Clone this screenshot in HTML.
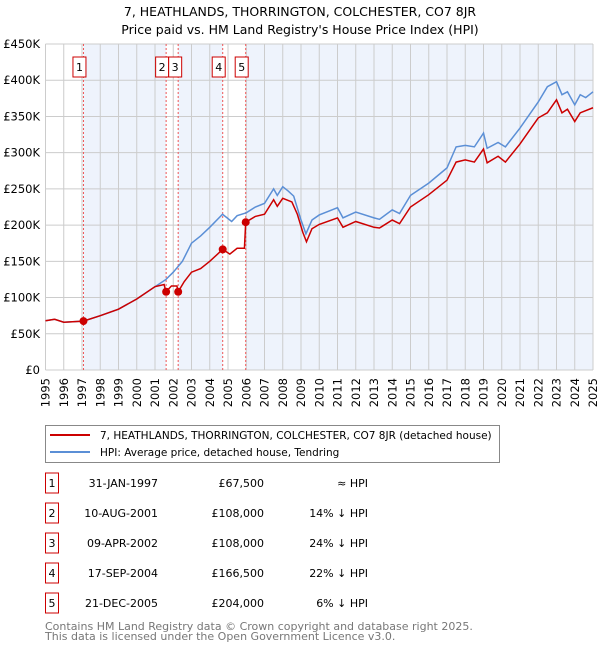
<!DOCTYPE html>
<html><head><meta charset="utf-8"><style>
body{margin:0;background:#fff;font-family:"Liberation Sans","DejaVu Sans",sans-serif;}
svg text{font-family:"DejaVu Sans","Liberation Sans",sans-serif;}
</style></head><body>
<svg id="chart" width="600" height="650" xmlns="http://www.w3.org/2000/svg">
<text x="300" y="16" text-anchor="middle" font-size="12.5">7, HEATHLANDS, THORRINGTON, COLCHESTER, CO7 8JR</text>
<text x="300" y="34" text-anchor="middle" font-size="12.5">Price paid vs. HM Land Registry's House Price Index (HPI)</text>
<g id="plot"></g>
<g>
<rect x="45.5" y="425.5" width="454" height="37" fill="#fff" stroke="#888"/>
<line x1="50" y1="435" x2="90" y2="435" stroke="#cc0000" stroke-width="2"/>
<text x="100" y="439" font-size="10.5">7, HEATHLANDS, THORRINGTON, COLCHESTER, CO7 8JR (detached house)</text>
<line x1="50" y1="452" x2="90" y2="452" stroke="#5b8fd6" stroke-width="2"/>
<text x="100" y="456" font-size="10.5">HPI: Average price, detached house, Tendring</text>
</g>
<g id="table" font-size="11"></g>
<text x="45" y="630" font-size="11" fill="#777">Contains HM Land Registry data © Crown copyright and database right 2025.</text>
<text x="45" y="640" font-size="11" fill="#777">This data is licensed under the Open Government Licence v3.0.</text>
</svg>
<script>
const hpiYears=[1995,1995.5,1996,1997.08,1998,1999,2000,2001,2001.6,2002,2002.5,2003,2003.5,2004,2004.7,2005.2,2005.5,2006,2006.5,2007,2007.5,2007.7,2008,2008.3,2008.6,2009,2009.27,2009.6,2010,2011,2011.3,2012,2013,2013.3,2014,2014.4,2015,2016,2017,2017.5,2018,2018.5,2019,2019.2,2019.8,2020.2,2021,2022,2022.5,2023,2023.3,2023.6,2024,2024.3,2024.6,2025];
const hpiValues=[68,70,66,67.5,75,84,98,115,125,135,150,175,185,197,215,205,213,217,225,230,250,241,253,247,240,207,188,207,214,224,210,218,210,208,221,216,241,258,279,308,310,308,327,306,314,308,334,370,391,398,380,384,366,380,376,384];
const propYears=[1995,1995.5,1996,1997.08,1998,1999,2000,2001,2001.5,2001.6,2001.9,2002.2,2002.27,2002.6,2003,2003.5,2004,2004.71,2005.1,2005.5,2005.9,2005.97,2006.5,2007,2007.5,2007.7,2008,2008.5,2008.8,2009.1,2009.3,2009.6,2010,2011,2011.3,2012,2013,2013.3,2014,2014.4,2015,2016,2017,2017.5,2018,2018.5,2019,2019.2,2019.8,2020.2,2021,2022,2022.5,2023,2023.3,2023.6,2024,2024.3,2025];
const propValues=[68,70,66,67.5,75,84,98,115,118,108,116,116,108,122,135,140,150,166.5,160,168,168,204,212,215,235,226,237,232,215,190,177,195,201,210,197,205,197,196,207,202,225,242,262,287,290,287,305,286,295,287,312,348,355,373,355,360,343,355,362];
const saleYears=[1997.08,2001.61,2002.27,2004.71,2005.97];
const saleValues=[67.5,108,108,166.5,204];
const saleLabels=["1","2","3","4","5"];
const saleDates=["31-JAN-1997","10-AUG-2001","09-APR-2002","17-SEP-2004","21-DEC-2005"];
const salePrices=["£67,500","£108,000","£108,000","£166,500","£204,000"];
const saleHpi=["≈ HPI","14% ↓ HPI","24% ↓ HPI","22% ↓ HPI","6% ↓ HPI"];
const yTicks=[0,50,100,150,200,250,300,350,400,450];
const yTickLabels=["£0","£50K","£100K","£150K","£200K","£250K","£300K","£350K","£400K","£450K"];
const xTicks=[1995,1996,1997,1998,1999,2000,2001,2002,2003,2004,2005,2006,2007,2008,2009,2010,2011,2012,2013,2014,2015,2016,2017,2018,2019,2020,2021,2022,2023,2024,2025];

const NS="http://www.w3.org/2000/svg";
const X0=45.5,X1=593,Y0=370,Y1=44;
const sx=v=>X0+(v-1995)/30*(X1-X0);
const sy=v=>Y0-v/450*(Y0-Y1);
const plot=document.getElementById('plot');
function mk(tag,attrs,parent){const e=document.createElementNS(NS,tag);for(const k in attrs)e.setAttribute(k,attrs[k]);(parent||plot).appendChild(e);return e;}
const bandEdges=saleYears.concat([2025]);
for(let i=0;i<bandEdges.length-1;i+=2){
  const r=mk('rect',{x:sx(bandEdges[i]),y:Y1,width:sx(bandEdges[i+1])-sx(bandEdges[i]),height:Y0-Y1,fill:'#eef3fc'});
  
  
}
xTicks.forEach((t,i)=>{
  const l=mk('line',{x1:sx(t),x2:sx(t),y1:Y1,y2:Y0,stroke:'#cccccc','stroke-width':1});
  
  
  const tx=mk('text',{x:0,y:0,'font-size':11.5,'text-anchor':'end',transform:`translate(${sx(t)+4},${Y0+8}) rotate(-90)`});
  tx.textContent=String(t);
  
  
});
yTicks.forEach((t,i)=>{
  const l=mk('line',{x1:X0,x2:X1,y1:sy(t),y2:sy(t),stroke:'#cccccc','stroke-width':1});
  
  
  const tx=mk('text',{x:40,y:sy(t)+4,'font-size':11.5,'text-anchor':'end'});
  tx.textContent=yTickLabels[i];
  
  
});
saleYears.forEach((s,i)=>{
  const l=mk('line',{x1:sx(s),x2:sx(s),y1:Y1,y2:Y0,stroke:'#ee5555','stroke-width':1,'stroke-dasharray':'2,2'});
  
  
  let cx=sx(s)-4; if(i===2)cx=sx(s)-3;
  const b=mk('rect',{x:cx-6.5,y:57,width:13,height:20,fill:'#fff',stroke:'#cc0000'});
  
  
  const t=mk('text',{x:cx,y:71,'font-size':11,'text-anchor':'middle'});
  t.textContent=saleLabels[i];
  
  
});
const hp=mk('polyline',{points:hpiYears.map((y,i)=>sx(y)+','+sy(hpiValues[i])).join(' '),fill:'none',stroke:'#5b8fd6','stroke-width':1.5});


const pp=mk('polyline',{points:propYears.map((y,i)=>sx(y)+','+sy(propValues[i])).join(' '),fill:'none',stroke:'#cc0000','stroke-width':1.5});


saleYears.forEach((s,i)=>{
  const c=mk('circle',{cx:sx(s),cy:sy(saleValues[i]),r:4,fill:'#cc0000'});
  
  
});
const tb=document.getElementById('table');
saleLabels.forEach((lab,i)=>{
  const y=483+i*30;
  const r=mk('rect',{x:45.5,y:y-10,width:13,height:20,fill:'#fff',stroke:'#cc0000'},tb);
  
  
  const cells=[[52,lab,'middle'],[158,saleDates[i],'end'],[264,salePrices[i],'end'],[368,saleHpi[i],'end']];
  cells.forEach(([x,txt,anc],j)=>{
    const t=mk('text',{x:x,y:y+4,'text-anchor':anc},tb);
    t.textContent=txt;
    
    
  });
});
</script>
</body></html>
